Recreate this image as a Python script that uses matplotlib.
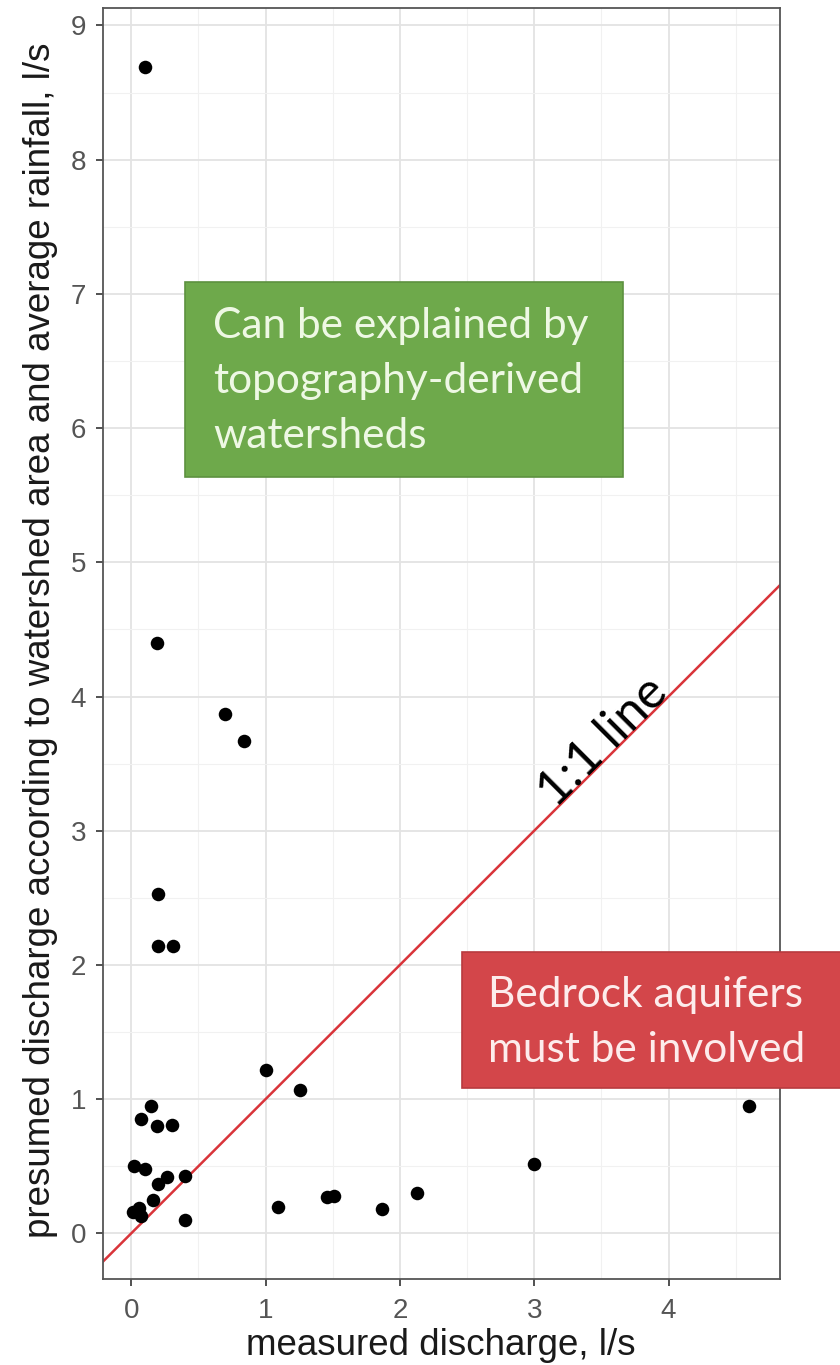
import matplotlib
matplotlib.use("Agg")
import matplotlib.pyplot as plt
from matplotlib.ticker import MultipleLocator

measured = [0.10, 0.19, 0.70, 0.84, 0.20, 0.20, 0.31, 1.00, 1.26, 0.15, 0.07, 0.19, 0.30,
            0.02, 0.10, 0.20, 0.27, 0.40, 0.16, 0.01, 0.06, 0.07, 0.40, 1.09, 1.46, 1.51,
            1.87, 2.13, 3.00, 4.60]
presumed = [8.69, 4.40, 3.87, 3.67, 2.53, 2.14, 2.14, 1.22, 1.07, 0.95, 0.85, 0.80, 0.81,
            0.50, 0.48, 0.37, 0.42, 0.43, 0.25, 0.16, 0.19, 0.13, 0.10, 0.20, 0.27, 0.28,
            0.18, 0.30, 0.52, 0.95]
green_lines = ["Can be explained by", "topography-derived", "watersheds"]
red_lines = ["Bedrock aquifers", "must be involved"]

W, H = 840, 1365
fig = plt.figure(figsize=(W / 100, H / 100), dpi=100)
ax = fig.add_axes([103 / W, 1 - 1279 / H, (780 - 103) / W, (1279 - 8) / H])

ax.set_xlim(-0.21, 4.83)
ax.set_ylim(-0.34, 9.13)
ax.xaxis.set_major_locator(MultipleLocator(1))
ax.yaxis.set_major_locator(MultipleLocator(1))
ax.xaxis.set_minor_locator(MultipleLocator(0.5))
ax.yaxis.set_minor_locator(MultipleLocator(0.5))
ax.grid(True, which="major", color="#e3e3e3", lw=1.3)
ax.grid(True, which="minor", color="#f1f1f1", lw=0.8)
ax.tick_params(which="minor", length=0)
ax.tick_params(which="major", length=5, width=1.2, color="#333333",
               labelsize=20, labelcolor="#555555")
ax.tick_params(axis="y", pad=7)
ax.tick_params(axis="x", pad=9)
ax.set_axisbelow(True)
for s in ax.spines.values():
    s.set_color("#555555")
    s.set_linewidth(1.3)
for lab in ax.get_xticklabels() + ax.get_yticklabels():
    lab.set_family("Liberation Sans")

ax.plot([-1, 6], [-1, 6], color="#d9343a", lw=1.8, zorder=2)
ax.scatter(measured, presumed, s=95, color="black", zorder=3, linewidths=0)

ax.set_xlabel("measured discharge, l/s", fontsize=26.5, family="Liberation Sans",
              color="#1a1a1a")
ax.set_ylabel("presumed discharge according to watershed area and average rainfall, l/s",
              fontsize=26.5, family="Liberation Sans", color="#1a1a1a")
ax.xaxis.set_label_coords(441 / W, 1 - 1328 / H, transform=fig.transFigure)
ax.yaxis.set_label_coords(58 / W, 1 - 640 / H, transform=fig.transFigure)

ax.text(3.51, 3.66, "1:1 line", rotation=45, ha="center", va="center",
        fontsize=36, family="Lato", color="black", zorder=4,
        rotation_mode="anchor")

# green box
fig.patches.append(plt.Rectangle((185 / W, 1 - 477 / H), (623 - 185) / W, (477 - 282) / H,
                                 transform=fig.transFigure, facecolor="#6ea94b",
                                 edgecolor="#5d9140", lw=1.2, zorder=5))
for i, line in enumerate(green_lines):
    fig.text(213 / W, 1 - (338 + 55 * i) / H, line, ha="left", va="baseline",
             fontsize=30.5, family="Lato", color="#eef8e4", zorder=6)

# red box
fig.patches.append(plt.Rectangle((462 / W, 1 - 1088 / H), (845 - 462) / W, (1088 - 952) / H,
                                 transform=fig.transFigure, facecolor="#d3464a",
                                 edgecolor="#b83a3e", lw=1.2, zorder=5))
for i, line in enumerate(red_lines):
    fig.text(488 / W, 1 - (1007 + 55 * i) / H, line, ha="left", va="baseline",
             fontsize=30.5, family="Lato", color="#fdecec", zorder=6)

fig.savefig("out.png", dpi=100)
